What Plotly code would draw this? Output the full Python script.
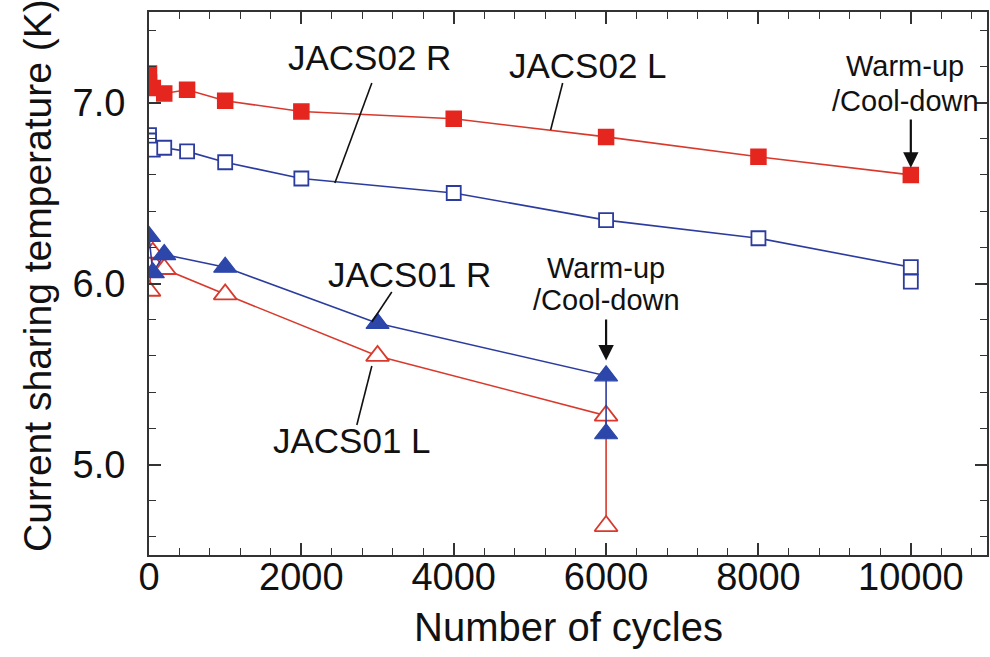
import plotly.graph_objects as go

# Number of cycles / current sharing temperature (K) for each conductor
jacs02_l_cycles = [0, 0, 50, 200, 500, 1000, 2000, 4000, 6000, 8000, 10000]
jacs02_l_tcs = [7.16, 7.11, 7.08, 7.05, 7.07, 7.01, 6.95, 6.91, 6.81, 6.70, 6.60]

jacs02_r_cycles = [0, 0, 50, 200, 500, 1000, 2000, 4000, 6000, 8000, 10000, 10000]
jacs02_r_tcs = [6.82, 6.79, 6.74, 6.75, 6.73, 6.67, 6.58, 6.50, 6.35, 6.25, 6.09, 6.01]

jacs01_r_cycles = [0, 50, 200, 1000, 3000, 6000, 6000]
jacs01_r_tcs = [6.26, 6.06, 6.16, 6.09, 5.78, 5.49, 5.17]

jacs01_l_cycles = [0, 50, 200, 1000, 3000, 6000, 6000]
jacs01_l_tcs = [5.96, 6.17, 6.08, 5.94, 5.60, 5.27, 4.66]

x_tick_vals = [0, 2000, 4000, 6000, 8000, 10000]
x_tick_text = ["0", "2000", "4000", "6000", "8000", "10000"]
y_tick_vals = [5.0, 6.0, 7.0]
y_tick_text = ["5.0", "6.0", "7.0"]

X_RANGE = [0, 11000]
Y_RANGE = [4.5, 7.5]

RED = "#e5261f"
RED_LINE = "#d8392c"
BLUE = "#2c3c9e"
BLUE_FILL = "#2c46aa"
INK = "#111111"
FONT = "Liberation Sans, Arial, Helvetica, sans-serif"

fig = go.Figure()

fig.add_trace(go.Scatter(
    x=jacs02_l_cycles, y=jacs02_l_tcs, mode="lines+markers", name="JACS02 L",
    line=dict(color=RED_LINE, width=1.6),
    marker=dict(symbol="square", size=15, color=RED, line=dict(color=RED, width=1.5)),
))
fig.add_trace(go.Scatter(
    x=jacs02_r_cycles, y=jacs02_r_tcs, mode="lines+markers", name="JACS02 R",
    line=dict(color=BLUE, width=1.6),
    marker=dict(symbol="square", size=14, color="white", line=dict(color=BLUE, width=1.8)),
))
fig.add_trace(go.Scatter(
    x=jacs01_l_cycles, y=jacs01_l_tcs, mode="lines+markers", name="JACS01 L",
    line=dict(color=RED_LINE, width=1.6),
    marker=dict(symbol="triangle-up", size=20, color="white", line=dict(color=RED_LINE, width=1.8)),
))
fig.add_trace(go.Scatter(
    x=jacs01_r_cycles, y=jacs01_r_tcs, mode="lines+markers", name="JACS01 R",
    line=dict(color=BLUE, width=1.6),
    marker=dict(symbol="triangle-up", size=20, color=BLUE_FILL, line=dict(color=BLUE_FILL, width=1.2)),
))

# Empty trace so the top/right tick axes are drawn
fig.add_trace(go.Scatter(x=[], y=[], xaxis="x2", yaxis="y2", showlegend=False, hoverinfo="skip"))

# Series labels with leader lines
labels = [
    ("JACS02 R", 2898, 7.25, (2925, 7.108), (2440, 6.555)),
    ("JACS02 L", 5757, 7.207, (5430, 7.108), (5272, 6.848)),
    ("JACS01 R", 3423, 6.047, (3187, 5.953), (2925, 5.787)),
    ("JACS01 L", 2662, 5.135, (2728, 5.218), (2925, 5.544)),
]
for text, lx, ly, p0, p1 in labels:
    fig.add_annotation(x=lx, y=ly, text=text, showarrow=False,
                       font=dict(family=FONT, size=35, color=INK),
                       xanchor="center", yanchor="middle")
    fig.add_shape(type="line", x0=p0[0], y0=p0[1], x1=p1[0], y1=p1[1],
                  line=dict(color=INK, width=1.6))

# Warm-up / cool-down events with arrows
events = [
    # text x, line-1 y, line-2 y, arrow x, arrow tail y, arrow tip y
    (6000, 6.086, 5.909, 6000, 5.81, 5.575),
    (9930, 7.20, 7.008, 10000, 6.915, 6.64),
]
for tx, y1, y2, axx, tail, tip in events:
    fig.add_annotation(x=tx, y=y1, text="Warm-up", showarrow=False,
                       font=dict(family=FONT, size=29, color=INK),
                       xanchor="center", yanchor="middle")
    fig.add_annotation(x=tx, y=y2, text="/Cool-down", showarrow=False,
                       font=dict(family=FONT, size=29, color=INK),
                       xanchor="center", yanchor="middle")
    fig.add_annotation(x=axx, y=tip, ax=axx, ay=tail, axref="x", ayref="y",
                       xref="x", yref="y", text="", showarrow=True,
                       arrowhead=2, arrowsize=1.4, arrowwidth=2.2, arrowcolor=INK)

# Axis titles
fig.add_annotation(xref="paper", yref="paper", x=-0.1325, y=0.5157, text="Current sharing temperature (K)",
                   textangle=-90, showarrow=False, xanchor="center", yanchor="middle",
                   font=dict(family=FONT, size=39, color=INK))
fig.add_annotation(xref="paper", yref="paper", x=0.5, y=-0.1326, text="Number of cycles",
                   showarrow=False, xanchor="center", yanchor="middle",
                   font=dict(family=FONT, size=40, color=INK))

axis_common = dict(
    showline=True, linecolor="#333", linewidth=2,
    ticks="inside", ticklen=12, tickwidth=1.6, tickcolor="#333",
    showgrid=False, zeroline=False,
    tickfont=dict(family=FONT, size=38, color=INK),
)
x_minor = dict(dtick=400, ticks="inside", ticklen=7, tickwidth=1.4, tickcolor="#333", showgrid=False)
y_minor = dict(dtick=0.2, tick0=4.6, ticks="inside", ticklen=7, tickwidth=1.4, tickcolor="#333", showgrid=False)

fig.update_layout(
    width=990, height=657,
    margin=dict(l=149, r=3, t=12, b=102),
    plot_bgcolor="white", paper_bgcolor="white",
    showlegend=False,
    font=dict(family=FONT, color=INK),
    xaxis=dict(range=X_RANGE, tickvals=x_tick_vals, ticktext=x_tick_text,
               minor=x_minor, ticklabelstandoff=-13, **axis_common),
    yaxis=dict(range=Y_RANGE, tickvals=y_tick_vals, ticktext=y_tick_text,
               minor=y_minor, ticklabelstandoff=14, **axis_common),
    xaxis2=dict(range=X_RANGE, tickvals=x_tick_vals, overlaying="x", side="top", anchor="y",
                minor=x_minor, showticklabels=False, **axis_common),
    yaxis2=dict(range=Y_RANGE, tickvals=y_tick_vals, overlaying="y", side="right", anchor="x",
                minor=y_minor, showticklabels=False, **axis_common),
)

fig.write_html("out.html")
